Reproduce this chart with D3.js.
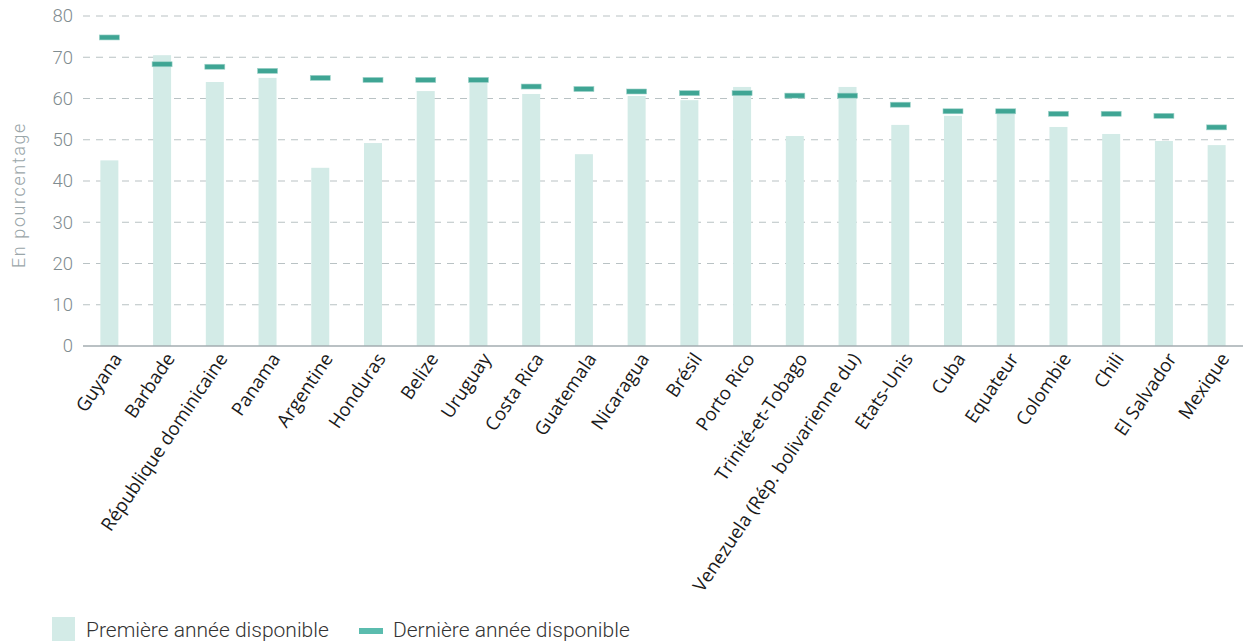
<!DOCTYPE html>
<html>
<head>
<meta charset="utf-8">
<script src="https://cdn.jsdelivr.net/npm/d3@7"></script>
<style>
  html, body { margin: 0; padding: 0; background: #fff; }
  svg { display: block; }
</style>
</head>
<body>
<svg id="chart" width="1243" height="641"></svg>
<script>
const categories = ["Guyana","Barbade","République dominicaine","Panama","Argentine","Honduras","Belize","Uruguay","Costa Rica","Guatemala","Nicaragua","Brésil","Porto Rico","Trinité-et-Tobago","Venezuela (Rép. bolivarienne du)","Etats-Unis","Cuba","Equateur","Colombie","Chili","El Salvador","Mexique"];
const firstYear = [45, 70.5, 64, 65, 43.2, 49.2, 61.8, 64, 61.1, 46.5, 60.6, 59.6, 62.8, 50.9, 62.8, 53.6, 55.8, 56.4, 53.1, 51.4, 49.7, 48.7];
const lastYear  = [74.8, 68.3, 67.7, 66.7, 65.0, 64.5, 64.5, 64.5, 62.9, 62.3, 61.7, 61.3, 61.3, 60.7, 60.7, 58.5, 56.9, 56.9, 56.3, 56.3, 55.8, 53.0];
const yTicks = [0,10,20,30,40,50,60,70,80];
const legendLabels = ["Première année disponible", "Dernière année disponible"];
const yTitle = "En pourcentage";

const svg = d3.select("#chart");
const mLeft = 83, mRight = 1243, mTop = 16, mBottom = 346;

const x = d3.scaleBand().domain(categories).range([mLeft, mRight]).padding(0);
const y = d3.scaleLinear().domain([0, 80]).range([mBottom, mTop]);

const barW = 18, markW = 20, markH = 5;
const barColor = "#d3ebe7", markColor = "#3fa594";

// gridlines
svg.append("g").selectAll("line").data(yTicks.filter(d => d > 0)).join("line")
  .attr("x1", mLeft).attr("x2", mRight - 3)
  .attr("y1", d => y(d)).attr("y2", d => y(d))
  .attr("stroke", "#b9c2c4").attr("stroke-width", 1.2)
  .attr("stroke-dasharray", "7,6");

// y axis labels
const yAxis = d3.axisLeft(y).tickValues(yTicks).tickSize(0).tickPadding(10);
const ga = svg.append("g").attr("transform", `translate(${mLeft},0)`).call(yAxis);
ga.select(".domain").remove();
ga.selectAll("text").attr("font-family", "Roboto, sans-serif").attr("font-weight", 300)
  .attr("font-size", 18.5).attr("fill", "#7f8c90");

// y title
svg.append("text")
  .attr("transform", `translate(25,195) rotate(-90)`)
  .attr("text-anchor", "middle")
  .attr("font-family", "Roboto, sans-serif").attr("font-weight", 300)
  .attr("font-size", 18).attr("letter-spacing", 1.6).attr("fill", "#9aa6a9")
  .text(yTitle);

// bars
svg.append("g").selectAll("rect").data(categories).join("rect")
  .attr("x", d => x(d) + x.bandwidth() / 2 - barW / 2)
  .attr("width", barW)
  .attr("y", (d, i) => y(firstYear[i]))
  .attr("height", (d, i) => y(0) - y(firstYear[i]))
  .attr("fill", barColor);

// baseline
svg.append("line").attr("x1", mLeft).attr("x2", mRight)
  .attr("y1", y(0)).attr("y2", y(0))
  .attr("stroke", "#a3adb0").attr("stroke-width", 1.5);

// markers
svg.append("g").selectAll("rect").data(categories).join("rect")
  .attr("x", d => x(d) + x.bandwidth() / 2 - markW / 2)
  .attr("width", markW)
  .attr("y", (d, i) => y(lastYear[i]) - markH / 2)
  .attr("height", markH)
  .attr("fill", markColor)
  .attr("stroke", "#9fd3ca").attr("stroke-width", 0.6);

// x labels
svg.append("g").selectAll("text").data(categories).join("text")
  .attr("transform", d => `translate(${x(d) + x.bandwidth() / 2 + 8},${mBottom + 9}) rotate(-56)`)
  .attr("text-anchor", "end")
  .attr("dy", "0.35em")
  .attr("font-family", "'Open Sans', sans-serif")
  .attr("font-size", 18.6).attr("fill", "#1a1a1a")
  .text(d => d);

// legend
const lg = svg.append("g");
lg.append("rect").attr("x", 52).attr("y", 617).attr("width", 23).attr("height", 24).attr("fill", barColor);
lg.append("text").attr("x", 86).attr("y", 637)
  .attr("font-family", "Roboto, sans-serif").attr("font-weight", 300)
  .attr("font-size", 21).attr("fill", "#333").text(legendLabels[0]);
lg.append("rect").attr("x", 359).attr("y", 628).attr("width", 24).attr("height", 6).attr("fill", "#5bbcae");
lg.append("text").attr("x", 393).attr("y", 637)
  .attr("font-family", "Roboto, sans-serif").attr("font-weight", 300)
  .attr("font-size", 21).attr("fill", "#333").text(legendLabels[1]);
</script>
</body>
</html>
